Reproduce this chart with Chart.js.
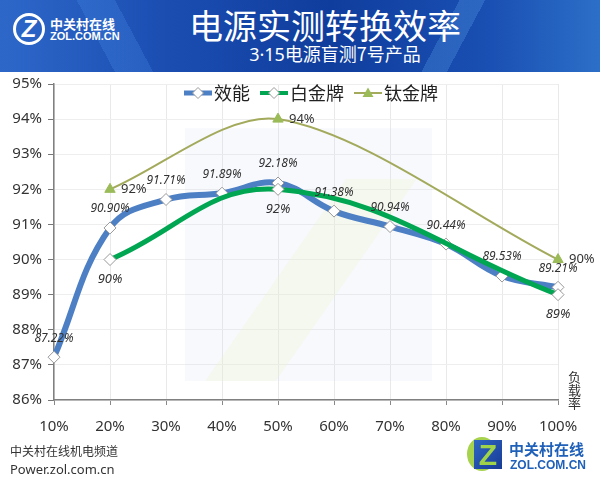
<!DOCTYPE html>
<html>
<head>
<meta charset="utf-8">
<script src="https://cdn.jsdelivr.net/npm/chart.js@4.4.1/dist/chart.umd.min.js"></script>
<style>
body { margin: 0; background: #fff; font-family: "Noto Sans CJK SC", "Noto Sans", sans-serif; }
#wrap { position: relative; width: 600px; height: 483px; overflow: hidden; background: #fff; }
#chart { position: absolute; left: 0; top: 0; }
#head {
  position: absolute; left: 0; top: 0; width: 600px; height: 72px; z-index: 2;
  background:
    linear-gradient(118deg, rgba(0,0,0,0) 0 72%, rgba(110,190,255,0.22) 72% 76%, rgba(0,0,0,0) 76%),
    linear-gradient(62deg, rgba(0,0,0,0) 0 18%, rgba(90,170,255,0.18) 18% 24%, rgba(0,0,0,0) 24%),
    linear-gradient(90deg, #2d68c9 0%, #1b4db1 28%, #0f3d9d 55%, #1a50b3 82%, #2c6fc8 100%);
  color: #fff;
}
#title { position: absolute; left: 0; width: 650px; top: 3px; text-align: center; font-size: 34px; line-height: 44px; }
#sub { position: absolute; left: 0; width: 670px; top: 41px; text-align: center; font-size: 18px; line-height: 24px; }
#sub span { font-family: "Noto Sans", sans-serif; }
#logo { position: absolute; left: 13px; top: 13px; width: 26px; height: 26px; border: 3px solid #fff; border-radius: 50%;
  font: bold 24px/26px "Liberation Sans", sans-serif; text-align: center; color: #fff; font-style: italic; }
#logoTxt1 { position: absolute; left: 50px; top: 15px; font-size: 13px; font-weight: bold; line-height: 17px; }
#logoTxt2 { position: absolute; left: 50px; top: 30px; font: bold 11px/13px "Liberation Sans", sans-serif; }
#unit { position: absolute; left: 568px; top: 370px; width: 14px; font-size: 13px; line-height: 13px; color: #333; }
#foot1 { position: absolute; left: 10px; top: 443px; font-size: 12px; color: #333; line-height: 16px; }
#foot2 { position: absolute; left: 10px; top: 461px; font: 13px/16px "Noto Sans", sans-serif; color: #333; }
#zcirc { position: absolute; left: 467px; top: 437px; width: 30px; height: 34px; border-radius: 50%; background: #a6d24e; }
#zicon { position: absolute; left: 474px; top: 440px; width: 28px; height: 29px;
  background: linear-gradient(135deg, #2f66c4, #173c95);
  color: #9fd34a; font: bold 30px/30px "Liberation Sans", sans-serif; text-align: center; }
#zt1 { position: absolute; left: 509px; top: 440px; font-size: 15px; font-weight: bold; color: #1f60b9; line-height: 18px; }
#zt2 { position: absolute; left: 510px; top: 458px; font: bold 12px/14px "Liberation Sans", sans-serif; color: #1f60b9; }
</style>
</head>
<body>
<div id="wrap">
  <canvas id="chart" width="600" height="483"></canvas>
  <div id="head">
    <div id="logo">Z</div>
    <div id="logoTxt1">中关村在线</div>
    <div id="logoTxt2">ZOL.COM.CN</div>
    <div id="title">电源实测转换效率</div>
    <div id="sub"><span>3·15</span>电源盲测7号产品</div>
  </div>
  <div id="unit">负<br>载<br>率</div>
  <div id="foot1">中关村在线机电频道</div>
  <div id="foot2">Power.zol.com.cn</div>
  <div id="zcirc"></div>
  <div id="zicon">Z</div>
  <div id="zt1">中关村在线</div>
  <div id="zt2">ZOL.COM.CN</div>
</div>
<script>
// 负载率
const loads = ["10%", "20%", "30%", "40%", "50%", "60%", "70%", "80%", "90%", "100%"];

// 效率 (%)
const xiaoneng = [87.22, 90.90, 91.71, 91.89, 92.18, 91.38, 90.94, 90.44, 89.53, 89.21];
const baijin = [null, 90, null, null, 92, null, null, null, null, 89];
const taijin = [null, 92, null, null, 94, null, null, null, null, 90];

const yTicks = [86, 87, 88, 89, 90, 91, 92, 93, 94, 95];

// legend sample: line + marker
function sample(color, width, marker) {
  const c = document.createElement("canvas");
  c.width = 28; c.height = 16;
  const g = c.getContext("2d");
  g.strokeStyle = color; g.lineWidth = width;
  g.beginPath(); g.moveTo(0, 8); g.lineTo(28, 8); g.stroke();
  if (marker === "diamond") {
    g.fillStyle = "#fff"; g.strokeStyle = "#999"; g.lineWidth = 1;
    g.beginPath(); g.moveTo(14, 2.5); g.lineTo(19.5, 8); g.lineTo(14, 13.5); g.lineTo(8.5, 8); g.closePath();
    g.fill(); g.stroke();
  } else {
    g.fillStyle = "#9bbb59";
    g.beginPath(); g.moveTo(14, 2.5); g.lineTo(19.5, 12); g.lineTo(8.5, 12); g.closePath(); g.fill();
  }
  return c;
}

const legendInside = {
  id: "legendInside",
  afterDatasetsDraw(chart) {
    const { ctx, chartArea: a } = chart;
    const sets = chart.data.datasets;
    ctx.save();
    ctx.font = "18px 'Noto Sans CJK SC', sans-serif";
    ctx.fillStyle = "#222";
    ctx.textBaseline = "middle";
    const widths = sets.map(ds => 30 + ctx.measureText(ds.label).width);
    const gap = 10;
    const total = widths.reduce((s, w) => s + w, 0) + gap * (sets.length - 1);
    let x = (a.left + a.right) / 2 + 5 - total / 2;
    const y = a.top + 9;
    sets.forEach((ds, i) => {
      ctx.drawImage(ds.legendImg, x, y - 8);
      ctx.fillText(ds.label, x + 30, y);
      x += widths[i] + gap;
    });
    ctx.restore();
  }
};

const valueLabels = {
  id: "valueLabels",
  afterDatasetsDraw(chart) {
    const ctx = chart.ctx;
    chart.data.datasets.forEach((ds, i) => {
      const meta = chart.getDatasetMeta(i);
      meta.data.forEach((pt, j) => {
        const v = ds.data[j];
        if (v == null) return;
        ctx.save();
        ctx.font = ds.labelFont;
        ctx.fillStyle = "#333";
        ctx.textAlign = "center";
        ctx.textBaseline = "middle";
        let x = pt.x, y = pt.y;
        if (ds.labelPos === "above") y -= 19;
        else if (ds.labelPos === "below") y += 20;
        else { x += 11; ctx.textAlign = "left"; }
        ctx.fillText(v.toFixed(ds.decimals) + "%", x, y);
        ctx.restore();
      });
    });
  }
};

// faint watermark behind the lines
const watermark = {
  id: "watermark",
  beforeDatasetsDraw(chart) {
    const { ctx, chartArea: a } = chart;
    const w = a.right - a.left, h = a.bottom - a.top;
    const px = f => a.left + f * w, py = f => a.top + f * h;
    ctx.save();
    ctx.fillStyle = "rgba(205,215,240,0.16)";
    ctx.fillRect(px(0.26), py(0.14), w * 0.49, h * 0.8);
    ctx.fillStyle = "rgba(235,245,205,0.3)";
    ctx.beginPath();
    ctx.moveTo(px(0.30), py(0.94)); ctx.lineTo(px(0.58), py(0.30)); ctx.lineTo(px(0.72), py(0.30)); ctx.lineTo(px(0.44), py(0.94));
    ctx.closePath(); ctx.fill();
    ctx.restore();
  }
};

new Chart(document.getElementById("chart"), {
  type: "line",
  data: {
    labels: loads,
    datasets: [
      {
        label: "效能", data: xiaoneng, borderColor: "#4d7fc4", borderWidth: 6, tension: 0.4,
        pointStyle: "rectRot", pointRadius: 6, pointBackgroundColor: "#fff", pointBorderColor: "#999", pointBorderWidth: 1,
        labelPos: "above", labelFont: "italic 12px 'Noto Sans', sans-serif", decimals: 2,
        legendImg: sample("#4d7fc4", 5, "diamond"), order: 3
      },
      {
        label: "白金牌", data: baijin, borderColor: "#00a651", borderWidth: 5, tension: 0.4, spanGaps: true,
        pointStyle: "rectRot", pointRadius: 6, pointBackgroundColor: "#fff", pointBorderColor: "#999", pointBorderWidth: 1,
        labelPos: "below", labelFont: "italic 13px 'Noto Sans', sans-serif", decimals: 0,
        legendImg: sample("#00a651", 4, "diamond"), order: 2
      },
      {
        label: "钛金牌", data: taijin, borderColor: "#a3aa5c", borderWidth: 2, tension: 0.3, spanGaps: true,
        pointStyle: "triangle", pointRadius: 6, pointBackgroundColor: "#9bbb59", pointBorderColor: "#9bbb59", pointBorderWidth: 1,
        labelPos: "right", labelFont: "13px 'Noto Sans', sans-serif", decimals: 0,
        legendImg: sample("#a3aa5c", 2, "triangle"), order: 1
      }
    ]
  },
  options: {
    responsive: false,
    animation: false,
    layout: { padding: { top: 84, right: 42, bottom: 0, left: 0 } },
    plugins: {
      tooltip: { enabled: false },
      legend: { display: false }
    },
    scales: {
      x: {
        offset: false,
        afterFit: s => { s.height = 83; },
        grid: { color: "#e9e9e9", tickColor: "#888", tickLength: 5, offset: false },
        border: { color: "#808080", width: 1.5 },
        ticks: { color: "#333", padding: 13, maxRotation: 0, font: { size: 15, family: "'Noto Sans', sans-serif" } }
      },
      y: {
        min: yTicks[0], max: yTicks[yTicks.length - 1],
        afterFit: s => { s.width = 54; },
        afterBuildTicks: s => { s.ticks = yTicks.map(v => ({ value: v })); },
        grid: { color: "#eeeeee", tickColor: "#777", tickLength: 6 },
        border: { color: "#808080", width: 1.5 },
        ticks: { color: "#333", padding: 6, callback: v => v + "%", font: { size: 15, family: "'Noto Sans', sans-serif" } }
      }
    }
  },
  plugins: [watermark, valueLabels, legendInside]
});
</script>
</body>
</html>
